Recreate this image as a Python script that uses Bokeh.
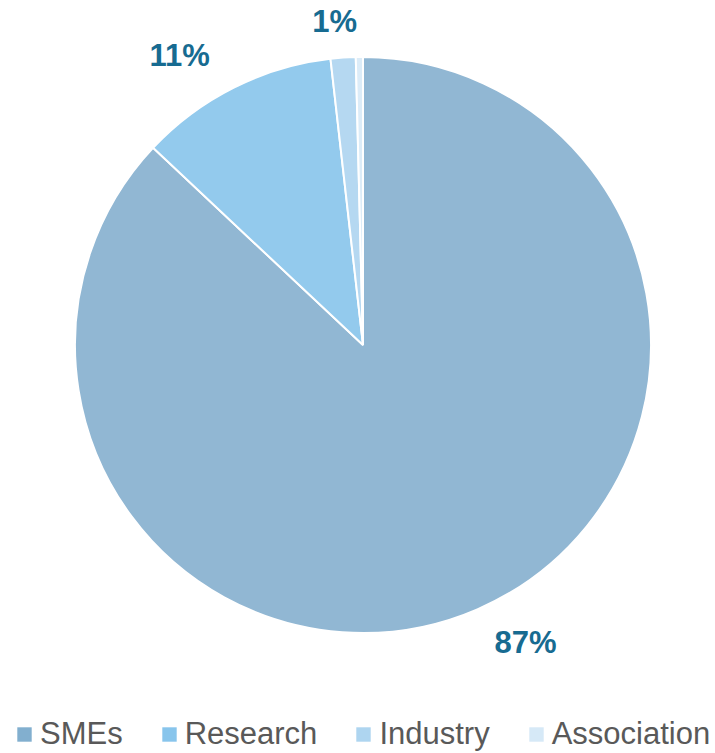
import numpy as np
from bokeh.plotting import figure
from bokeh.models import Range1d, Legend, LegendItem, ColumnDataSource
from bokeh.core.properties import value
from bokeh.embed import file_html
from bokeh.resources import INLINE

# ---- data ----
categories = ["SMEs", "Research", "Industry", "Association"]
shares = [87.0, 11.2, 1.4, 0.4]
labels = ["87%", "11%", "1%", ""]
slice_colors = ["#91B7D3", "#93CAED", "#B5D8F1", "#DCECF8"]
legend_colors = ["#82AFCF", "#88C5EC", "#AED5F0", "#D6E9F7"]

W, H = 715, 753
p = figure(width=W, height=H, output_backend="svg", toolbar_location=None,
           x_range=Range1d(0, W), y_range=Range1d(0, H),
           min_border=0, outline_line_color=None)
p.axis.visible = False
p.grid.visible = False
p.background_fill_color = "white"

cx, cy, R = 362.5, H - 344.5, 288.0
vals = np.array(shares)
frac = vals / vals.sum()
cum = np.concatenate([[0], np.cumsum(frac)])
start = np.pi / 2 - 2 * np.pi * cum[:-1]
end = np.pi / 2 - 2 * np.pi * cum[1:]
mid = (start + end) / 2

src = ColumnDataSource(dict(cat=categories, start=start, end=end,
                            color=slice_colors))
p.wedge(x=cx, y=cy, radius=R, start_angle="start", end_angle="end",
        direction="clock", fill_color="color", line_color="white",
        line_width=2, source=src)

# zero-area quads that only serve as legend swatches
items = []
for i, c in enumerate(categories):
    rr = p.quad(left=[cx], right=[cx], top=[cy], bottom=[cy],
                fill_color=legend_colors[i], line_color=None)
    items.append(LegendItem(label=c, renderers=[rr]))

# outside-end labels placed on an ellipse around the pie (wider than tall)
rx, ry = 1.42 * R, 1.125 * R
lab = ColumnDataSource(dict(x=cx + rx * np.cos(mid), y=cy + ry * np.sin(mid), t=labels))
p.text(x="x", y="y", text="t", source=lab, text_align="center",
       text_baseline="middle", text_font=value("Liberation Sans"),
       text_font_style="bold", text_font_size="31px", text_color="#176B91")

legend = Legend(items=items, orientation="horizontal", location=(15, 1),
                label_text_font="Liberation Sans", label_text_font_size="31px",
                label_text_color="#595959", glyph_width=18, glyph_height=18,
                label_standoff=7, spacing=37, padding=0, margin=0,
                border_line_color=None, background_fill_alpha=0)
p.add_layout(legend, "center")

open("out.html", "w").write(file_html(p, INLINE))
